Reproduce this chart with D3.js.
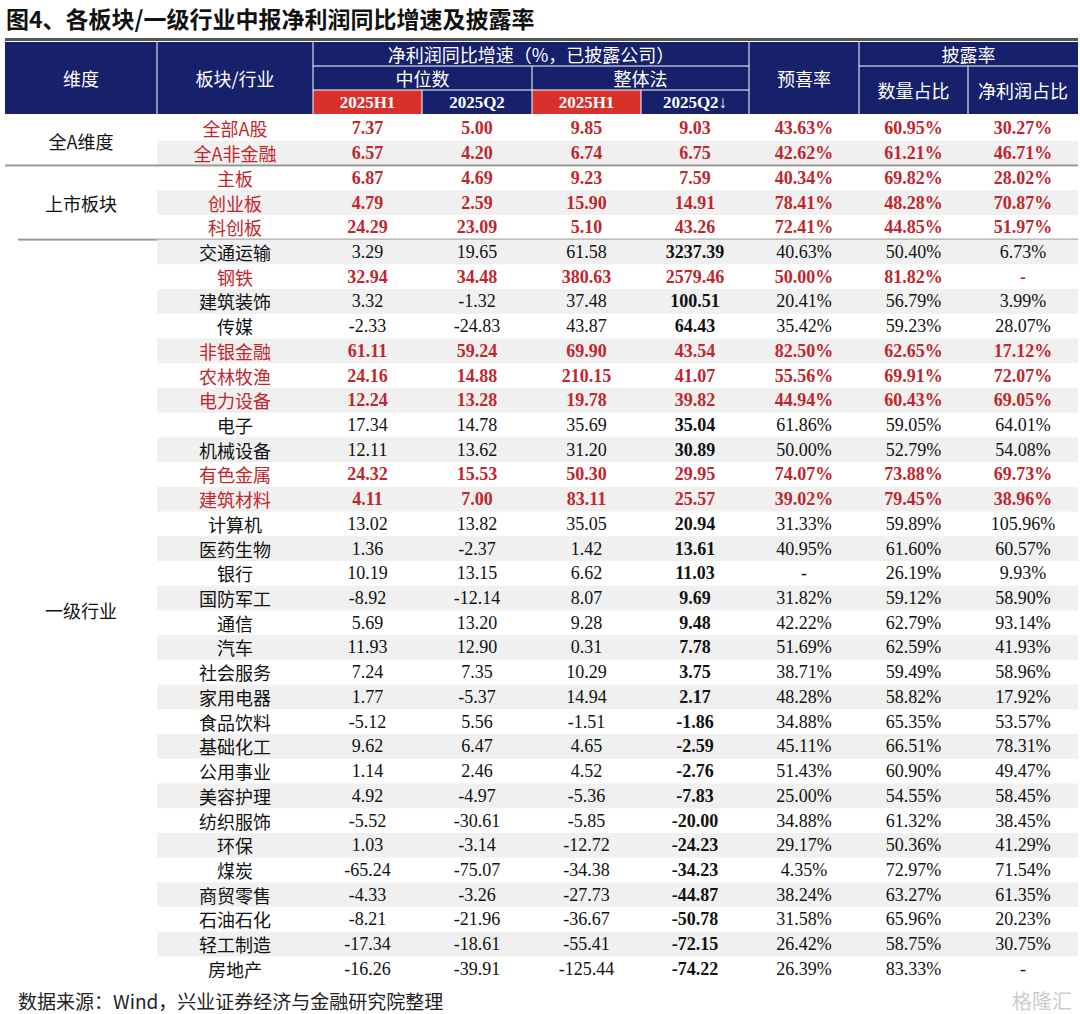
<!DOCTYPE html>
<html><head><meta charset="utf-8">
<script src="https://cdn.jsdelivr.net/npm/d3@7"></script>
<style>
body{margin:0;background:#fff;}
text{font-family:"Liberation Serif","Noto Sans CJK SC",serif;}
</style></head><body>
<svg id="chart" width="1080" height="1014"></svg>
<script>
const groups = ["全A维度", "上市板块", "一级行业"];
const names = [
  ["全部A股", "全A非金融"],
  ["主板", "创业板", "科创板"],
  ["交通运输","钢铁","建筑装饰","传媒","非银金融","农林牧渔","电力设备","电子","机械设备","有色金属","建筑材料","计算机","医药生物","银行","国防军工","通信","汽车","社会服务","家用电器","食品饮料","基础化工","公用事业","美容护理","纺织服饰","环保","煤炭","商贸零售","石油石化","轻工制造","房地产"]
];
const medianH1 = [[7.37,6.57],[6.87,4.79,24.29],[3.29,32.94,3.32,-2.33,61.11,24.16,12.24,17.34,12.11,24.32,4.11,13.02,1.36,10.19,-8.92,5.69,11.93,7.24,1.77,-5.12,9.62,1.14,4.92,-5.52,1.03,-65.24,-4.33,-8.21,-17.34,-16.26]];
const medianQ2 = [[5.00,4.20],[4.69,2.59,23.09],[19.65,34.48,-1.32,-24.83,59.24,14.88,13.28,14.78,13.62,15.53,7.00,13.82,-2.37,13.15,-12.14,13.20,12.90,7.35,-5.37,5.56,6.47,2.46,-4.97,-30.61,-3.14,-75.07,-3.26,-21.96,-18.61,-39.91]];
const totalH1 = [[9.85,6.74],[9.23,15.90,5.10],[61.58,380.63,37.48,43.87,69.90,210.15,19.78,35.69,31.20,50.30,83.11,35.05,1.42,6.62,8.07,9.28,0.31,10.29,14.94,-1.51,4.65,4.52,-5.36,-5.85,-12.72,-34.38,-27.73,-36.67,-55.41,-125.44]];
const totalQ2 = [[9.03,6.75],[7.59,14.91,43.26],[3237.39,2579.46,100.51,64.43,43.54,41.07,39.82,35.04,30.89,29.95,25.57,20.94,13.61,11.03,9.69,9.48,7.78,3.75,2.17,-1.86,-2.59,-2.76,-7.83,-20.00,-24.23,-34.23,-44.87,-50.78,-72.15,-74.22]];
const preRate = [[43.63,42.62],[40.34,78.41,72.41],[40.63,50.00,20.41,35.42,82.50,55.56,44.94,61.86,50.00,74.07,39.02,31.33,40.95,null,31.82,42.22,51.69,38.71,48.28,34.88,45.11,51.43,25.00,34.88,29.17,4.35,38.24,31.58,26.42,26.39]];
const countShare = [[60.95,61.21],[69.82,48.28,44.85],[50.40,81.82,56.79,59.23,62.65,69.91,60.43,59.05,52.79,73.88,79.45,59.89,61.60,26.19,59.12,62.79,62.59,59.49,58.82,65.35,66.51,60.90,54.55,61.32,50.36,72.97,63.27,65.96,58.75,83.33]];
const profitShare = [[30.27,46.71],[28.02,70.87,51.97],[6.73,null,3.99,28.07,17.12,72.07,69.05,64.01,54.08,69.73,38.96,105.96,60.57,9.93,58.90,93.14,41.93,58.96,17.92,53.57,78.31,49.47,58.45,38.45,41.29,71.54,61.35,20.23,30.75,null]];
const highlight = ["钢铁","非银金融","农林牧渔","电力设备","有色金属","建筑材料"];

const NAVY = "#16206b", RED = "#d8312b", TXTRED = "#c0272d", GRAY = "#f0f0f0";
const svg = d3.select("#chart");
const colEdges = [5, 157, 313, 422, 532, 641, 749, 859, 968, 1078];
const x = i => colEdges[i], cx = i => (colEdges[i] + colEdges[i + 1]) / 2;

svg.append("text").attr("x", 6).attr("y", 28).attr("font-size", 23).attr("font-weight", "bold")
  .style("font-family", "'Noto Sans CJK SC',sans-serif").attr("fill", "#111").text("图4、各板块/一级行业中报净利润同比增速及披露率");
svg.append("rect").attr("x", 5).attr("y", 38).attr("width", 1073).attr("height", 3).attr("fill", "#555");

// header
const hy = [42, 66, 90, 114];
const hdr = svg.append("g");
hdr.append("rect").attr("x", 5).attr("y", hy[0]).attr("width", 1073).attr("height", hy[3] - hy[0]).attr("fill", NAVY);
[2, 4].forEach(c => hdr.append("rect").attr("x", x(c)).attr("y", hy[2]).attr("width", x(c + 1) - x(c)).attr("height", 24).attr("fill", RED));
const hl = (x1, y1, x2, y2) => hdr.append("line").attr("x1", x1).attr("y1", y1).attr("x2", x2).attr("y2", y2).attr("stroke", "#fff").attr("stroke-width", 1);
[1, 2, 6, 7].forEach(c => hl(x(c), hy[0], x(c), hy[3]));
hl(x(4), hy[1], x(4), hy[3]); [3, 5].forEach(c => hl(x(c), hy[2], x(c), hy[3]));
hl(x(8), hy[1], x(8), hy[3]);
hl(x(2), hy[1], x(6), hy[1]); hl(x(2), hy[2], x(6), hy[2]); hl(x(7), hy[1], x(9), hy[1]);
const ht = (t, xx, yy, fs = 18, fam = "'Noto Sans CJK SC',serif") => hdr.append("text").attr("x", xx).attr("y", yy).attr("text-anchor", "middle")
  .attr("dominant-baseline", "central").attr("fill", "#fff").attr("font-size", fs).style("font-family", fam).text(t);
ht("维度", cx(0), 78); ht("板块/行业", cx(1), 78);
ht("净利润同比增速（%，已披露公司）", (x(2) + x(6)) / 2, 54);
ht("中位数", (x(2) + x(4)) / 2, 78); ht("整体法", (x(4) + x(6)) / 2, 78);
ht("预喜率", cx(6), 78); ht("披露率", (x(7) + x(9)) / 2, 54);
ht("数量占比", cx(7), 90); ht("净利润占比", cx(8), 90);
["2025H1", "2025Q2", "2025H1", "2025Q2↓"].forEach((t, i) => ht(t, cx(2 + i), 102, 17, "'Liberation Serif',serif").attr("font-weight", "bold"));

// body
const rowH = 24.72;
const fmt = v => v == null ? "-" : v.toFixed(2);
const pct = v => v == null ? "-" : v.toFixed(2) + "%";
let y0 = 116;
const body = svg.append("g");
groups.forEach((g, gi) => {
  const n = names[gi].length;
  const yScale = d3.scaleBand().domain(d3.range(n)).range([y0, y0 + n * rowH]);
  names[gi].forEach((nm, i) => {
    const yy = yScale(i), ym = yy + rowH / 2;
    const gray = gi < 2 ? i % 2 === 1 : i % 2 === 0;
    if (gray) body.append("rect").attr("x", x(1)).attr("y", yy).attr("width", x(9) - x(1)).attr("height", rowH).attr("fill", GRAY);
    const red = gi < 2 || highlight.includes(nm);
    body.append("text").attr("x", cx(1)).attr("y", ym).attr("text-anchor", "middle").attr("dominant-baseline", "central")
      .attr("font-size", 18).style("font-family", "'Noto Sans CJK SC',serif").attr("fill", red ? TXTRED : "#111").text(nm);
    const vals = [fmt(medianH1[gi][i]), fmt(medianQ2[gi][i]), fmt(totalH1[gi][i]), fmt(totalQ2[gi][i]),
      pct(preRate[gi][i]), pct(countShare[gi][i]), pct(profitShare[gi][i])];
    vals.forEach((v, c) => body.append("text").attr("x", cx(2 + c)).attr("y", ym).attr("text-anchor", "middle")
      .attr("dominant-baseline", "central").attr("font-size", 18).attr("fill", red ? TXTRED : "#111")
      .attr("font-weight", red || (gi === 2 && c === 3) ? "bold" : "normal").text(v));
  });
  const ye = y0 + n * rowH;
  body.append("text").attr("x", cx(0)).attr("y", (y0 + ye) / 2).attr("text-anchor", "middle").attr("dominant-baseline", "central")
    .attr("font-size", 18).style("font-family", "'Noto Sans CJK SC',serif").attr("fill", "#111").text(g);
  if (gi < 2) body.append("rect").attr("x", gi === 0 ? 5 : 18).attr("y", ye - 1).attr("width", 1078 - (gi === 0 ? 5 : 18)).attr("height", 2).attr("fill", "#999");
  y0 = ye;
});

svg.append("text").attr("x", 18).attr("y", 1000).attr("font-size", 19).attr("dominant-baseline", "central")
  .style("font-family", "'Noto Sans CJK SC',sans-serif").attr("fill", "#222").text("数据来源：Wind，兴业证券经济与金融研究院整理");
svg.append("text").attr("x", 1072).attr("y", 1000).attr("text-anchor", "end").attr("font-size", 20).attr("dominant-baseline", "central")
  .style("font-family", "'Noto Sans CJK SC',sans-serif").attr("fill", "#ccc").text("格隆汇");
</script></body></html>
